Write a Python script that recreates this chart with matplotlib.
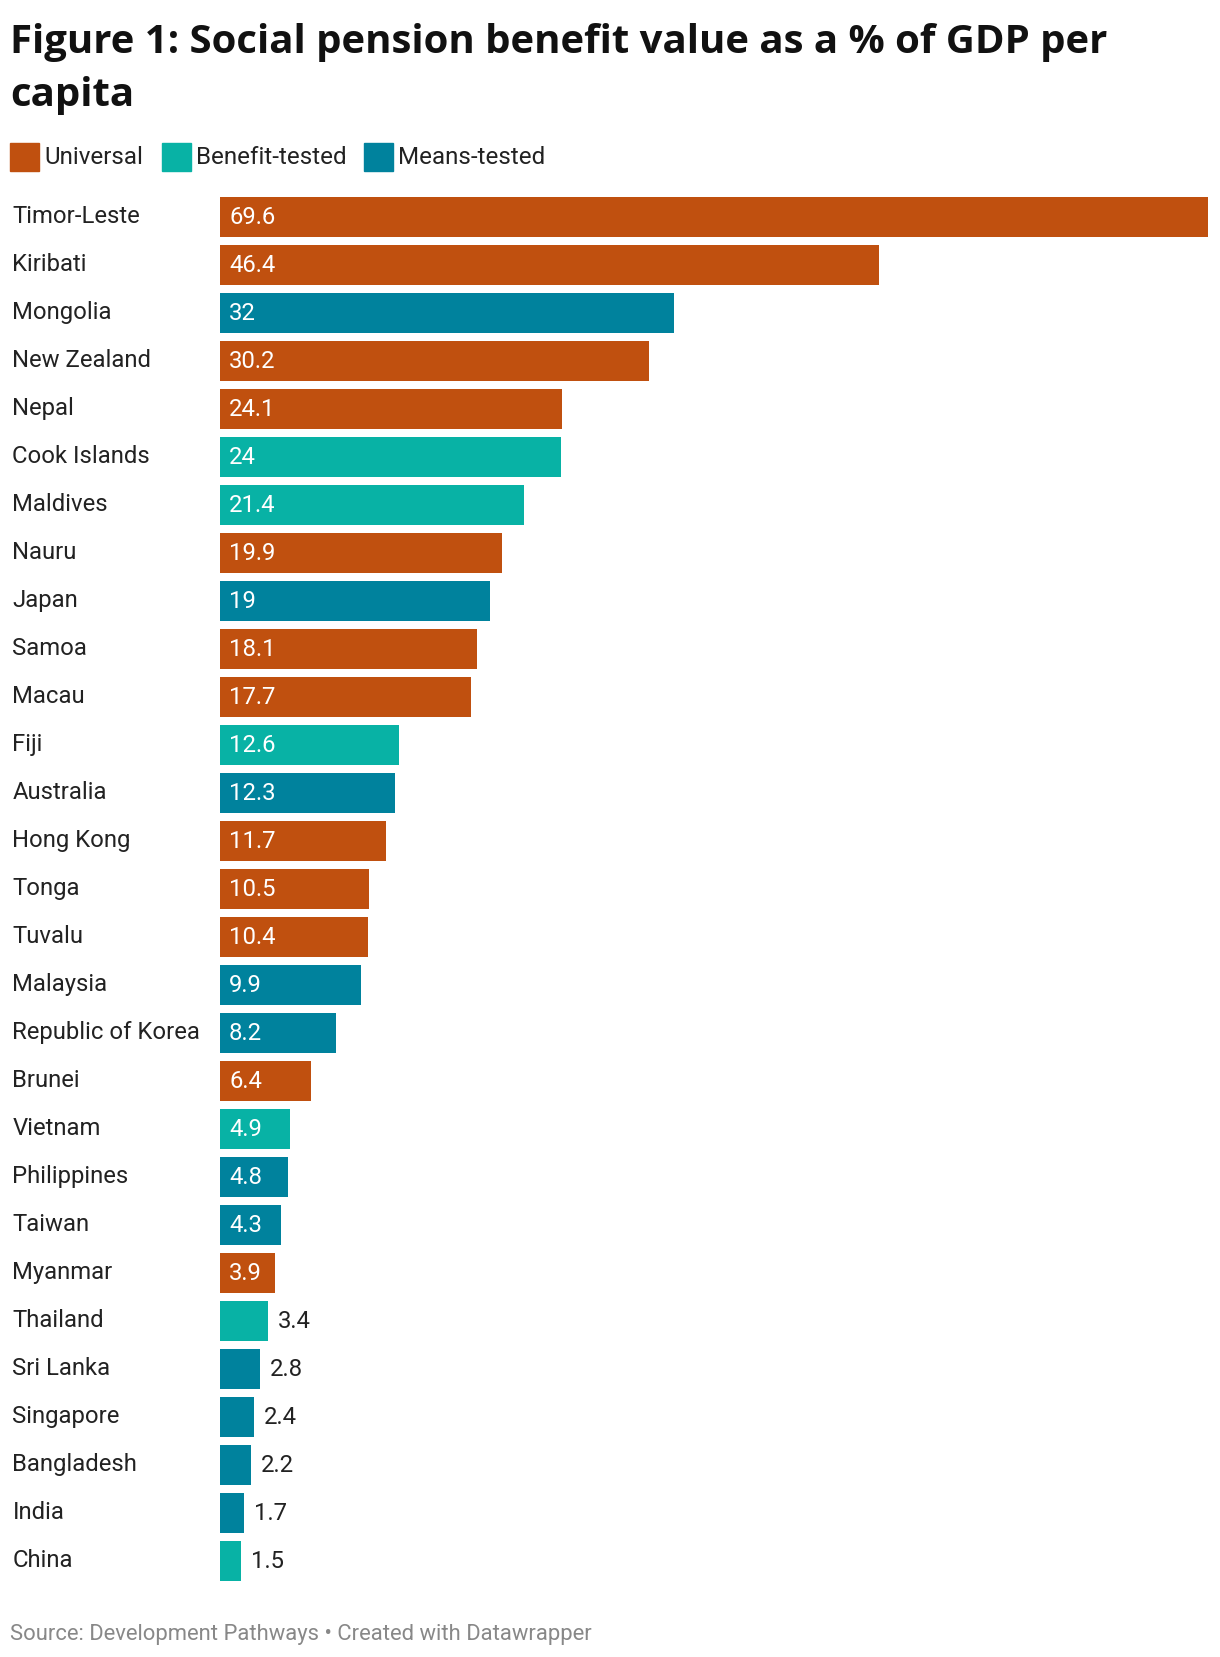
import matplotlib.pyplot as plt
import matplotlib.transforms as mtransforms
from matplotlib.patches import Rectangle

# Data
countries = ["Timor-Leste", "Kiribati", "Mongolia", "New Zealand", "Nepal",
             "Cook Islands", "Maldives", "Nauru", "Japan", "Samoa", "Macau",
             "Fiji", "Australia", "Hong Kong", "Tonga", "Tuvalu", "Malaysia",
             "Republic of Korea", "Brunei", "Vietnam", "Philippines", "Taiwan",
             "Myanmar", "Thailand", "Sri Lanka", "Singapore", "Bangladesh",
             "India", "China"]
values = [69.6, 46.4, 32, 30.2, 24.1, 24, 21.4, 19.9, 19, 18.1, 17.7, 12.6,
          12.3, 11.7, 10.5, 10.4, 9.9, 8.2, 6.4, 4.9, 4.8, 4.3, 3.9, 3.4, 2.8,
          2.4, 2.2, 1.7, 1.5]
types = ["U", "U", "M", "U", "U", "B", "B", "U", "M", "U", "U", "B", "M", "U",
         "U", "U", "M", "M", "U", "B", "M", "M", "U", "B", "M", "M", "M", "M", "B"]
legend_labels = ["Universal", "Benefit-tested", "Means-tested"]
legend_keys = ["U", "B", "M"]

colors = {"U": "#c0500f", "B": "#08b2a5", "M": "#00829d"}
W, H = 1220, 1658

plt.rcParams['font.family'] = ['Roboto', 'DejaVu Sans']
fig = plt.figure(figsize=(W / 100, H / 100), dpi=100)

# axes placed in pixel terms (row centres at 218 and 1562 px)
pitch = (1562 - 218) / 28
top_px, bot_px = 218 - pitch / 2, 1562 + pitch / 2
left_px, right_px = 220, 1208
ax = fig.add_axes([left_px / W, 1 - bot_px / H, (right_px - left_px) / W, (bot_px - top_px) / H])
ax.set_xlim(0, max(values))
ax.set_ylim(len(values) - 0.5, -0.5)
ax.axis('off')

ypos = list(range(len(values)))
ax.barh(ypos, values, height=40 / pitch, color=[colors[t] for t in types])

lab_tr = mtransforms.blended_transform_factory(fig.transFigure, ax.transData)
for y, name, v in zip(ypos, countries, values):
    ax.text(12.5 / W, y - 0.04, name, transform=lab_tr, ha='left', va='center',
            fontsize=17.2, color='#222222')
    txt = f"{v:g}"
    if v > 3.5:
        ax.annotate(txt, (0, y), xytext=(6.5, 0), textcoords='offset points',
                    ha='left', va='center', fontsize=17.2, color='white')
    else:
        ax.annotate(txt, (v, y), xytext=(7, 0), textcoords='offset points',
                    ha='left', va='center', fontsize=17.2, color='#222222')

# title
title_font = dict(fontsize=28.9, fontweight='bold', family=['Open Sans', 'DejaVu Sans'],
                  color='#111111', va='baseline')
fig.text(10 / W, 1 - 53 / H, "Figure 1: Social pension benefit value as a % of GDP per", **title_font)
fig.text(10 / W, 1 - 106 / H, "capita", **title_font)

# legend
sq_x = [10, 162, 364]
for x0, key, lab in zip(sq_x, legend_keys, legend_labels):
    fig.patches.append(Rectangle((x0 / W, 1 - 172 / H), 28.5 / W, 28.5 / H,
                                 transform=fig.transFigure, color=colors[key]))
    fig.text((x0 + 34) / W, 1 - 158 / H, lab, fontsize=17.4, color='#222222',
             va='center', ha='left')

# source
fig.text(10 / W, 1 - 1635 / H, "Source: Development Pathways \u2022 Created with Datawrapper",
         fontsize=15.8, color='#888888', va='center', ha='left')

fig.savefig("out.png", dpi=100, facecolor='white')
